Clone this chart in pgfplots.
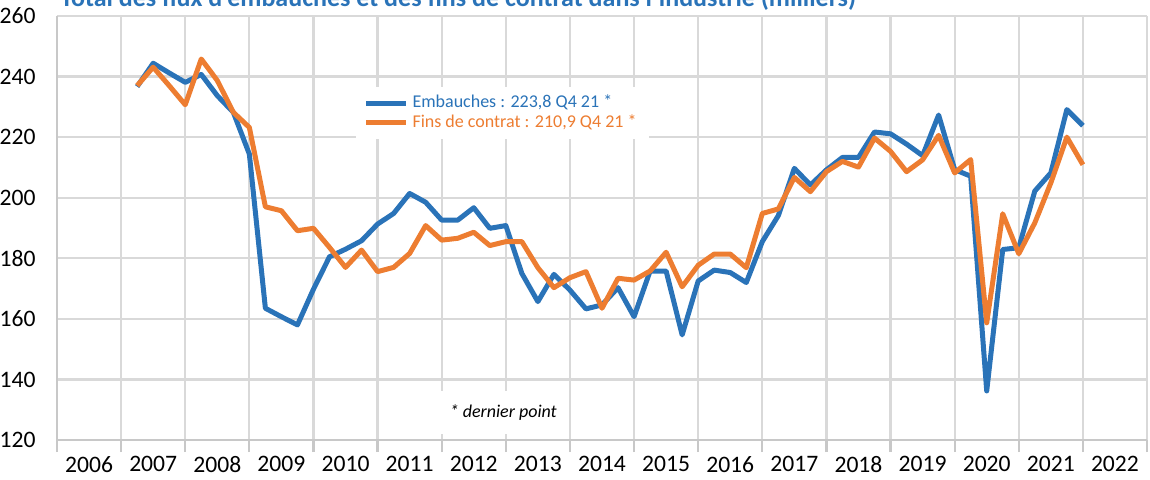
\documentclass[border=0pt]{standalone}
\usepackage{fontspec}
\setmainfont{Carlito}
\usepackage{pgfplots}
\usepackage{pgfplotstable}
\pgfplotsset{compat=1.18}
\definecolor{emb}{HTML}{2A73B8}
\definecolor{fin}{HTML}{ED7D31}
\definecolor{grille}{HTML}{D9D9D9}
\definecolor{axe}{HTML}{C8C8C8}

% x = annee - 2006 + trimestre/4
\pgfplotstableread{
x     emb    fin
1.25  236.7  237.0
1.50  244.4  243.1
1.75  241.2  237.0
2.00  238.1  230.7
2.25  240.7  245.8
2.50  233.7  238.7
2.75  228.2  228.2
3.00  214.4  223.2
3.25  163.5  197.0
3.50  160.7  195.7
3.75  158.0  189.1
4.00  169.8  189.9
4.25  180.5  183.6
4.50  183.0  177.0
4.75  185.8  182.7
5.00  191.3  175.6
5.25  194.8  177.0
5.50  201.4  181.6
5.75  198.5  190.8
6.00  192.6  186.0
6.25  192.6  186.6
6.50  196.7  188.6
6.75  189.9  184.2
7.00  190.8  185.5
7.25  175.0  185.5
7.50  165.7  176.9
7.75  174.7  170.3
8.00  169.5  173.6
8.25  163.3  175.6
8.50  164.6  163.5
8.75  170.3  173.4
9.00  160.7  172.8
9.25  175.8  175.8
9.50  175.8  182.0
9.75  154.7  170.6
10.00 172.5  177.7
10.25 176.1  181.4
10.50 175.3  181.4
10.75 172.0  176.9
11.00 185.5  194.8
11.25 194.1  196.3
11.50 209.7  206.7
11.75 204.2  202.0
12.00 209.2  208.6
12.25 213.3  212.0
12.50 213.3  210.1
12.75 221.7  219.7
13.00 221.1  215.3
13.25 217.7  208.6
13.50 213.9  212.5
13.75 227.3  220.6
14.00 209.3  208.2
14.25 207.1  212.6
14.50 136.2  158.7
14.75 182.9  194.7
15.00 183.5  181.5
15.25 202.2  191.7
15.50 208.2  204.9
15.75 229.1  220.0
16.00 223.8  210.9
}\flux

\begin{document}
\begin{tikzpicture}
\useasboundingbox (-28.5pt,-19.5pt) rectangle (546.5pt,220pt);
% titre, coupe en haut comme dans l'original
\node[anchor=base west, inner sep=0pt, text=emb, font=\fontsize{13}{15}\selectfont\bfseries]
  at (1.5pt,216.8pt) {Total des flux d'embauches et des fins de contrat dans l'industrie (milliers)};
\begin{axis}[
    at={(0,0)}, anchor=south west,
    scale only axis, width=545pt, height=212pt,
    xmin=0, xmax=17, ymin=120, ymax=260,
    axis x line*=bottom, axis y line*=left,
    axis line style={draw=axe, line width=1.1pt},
    xtick={0,...,17},
    xticklabels={2006,2007,2008,2009,2010,2011,2012,2013,2014,2015,2016,2017,2018,2019,2020,2021,2022},
    x tick label as interval,
    ytick={120,140,...,260},
    grid=major,
    major grid style={draw=grille, line width=1.1pt},
    tick align=outside,
    major tick length=6pt,
    xtick style={draw=axe, line width=1.1pt},
    ytick style={draw=none},
    tick label style={font=\fontsize{11.8}{13}\selectfont},
    /pgf/number format/assume math mode=true,
    yticklabel style={anchor=east, inner sep=0pt, xshift=-4.5pt},
    xticklabel style={anchor=north, inner sep=0pt, yshift=-2pt},
    legend cell align=left,
    legend image code/.code={\draw[#1] (0pt,0pt) -- (20pt,0pt);},
    legend style={at={(rel axis cs:0.2735,0.833)}, anchor=north west,
        draw=none, fill=white, font=\fontsize{9}{10}\selectfont,
        inner xsep=4pt, inner ysep=3pt,
        nodes={inner ysep=0.8pt, inner xsep=2pt, text height=6.5pt, text depth=1.8pt}},
]
\addplot[emb, line width=2.5pt, line join=round] table[x=x, y=emb] {\flux};
\addlegendentry{\textcolor{emb}{Embauches : 223,8 Q4 21 *}}
\addplot[fin, line width=2.5pt, line join=round] table[x=x, y=fin] {\flux};
\addlegendentry{\textcolor{fin}{Fins de contrat : 210,9 Q4 21 *}}
\node[fill=white, inner sep=0pt, minimum width=63pt, minimum height=21.5pt,
      font=\fontsize{9}{10}\selectfont\itshape] at (axis cs:6.96,129.1) {* dernier point};
\end{axis}
\end{tikzpicture}
\end{document}
